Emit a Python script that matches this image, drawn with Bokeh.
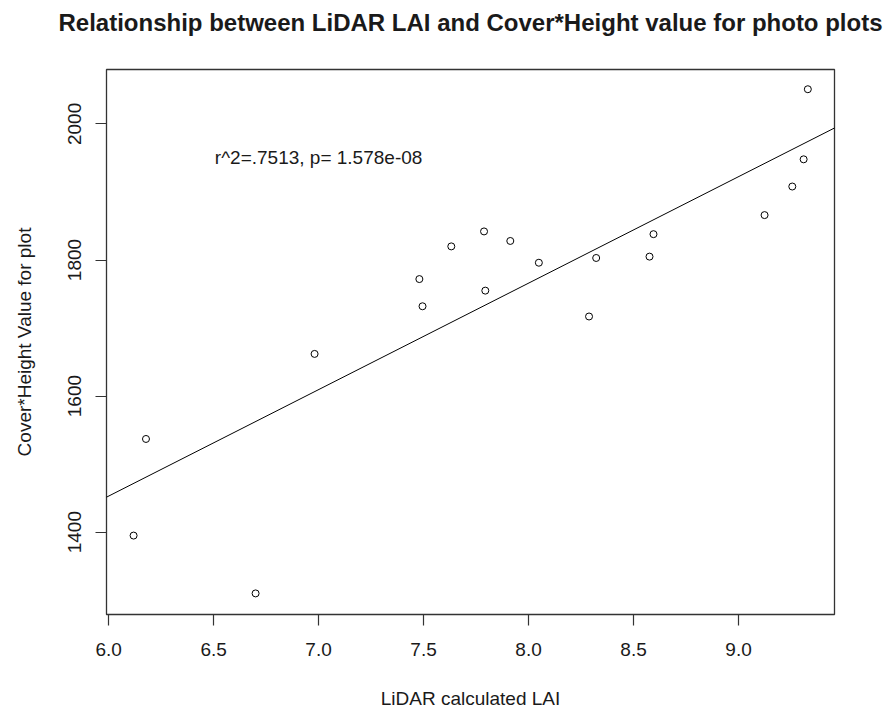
from bokeh.plotting import figure
from bokeh.models import FixedTicker, NumeralTickFormatter, Range1d, Slope, ColumnDataSource, Title
from bokeh.core.properties import value
from bokeh.embed import file_html
from bokeh.resources import INLINE

# Data
lidar_lai = [6.119, 6.178, 6.700, 6.981, 7.480, 7.495, 7.632, 7.788, 7.794, 7.913,
             8.049, 8.288, 8.322, 8.576, 8.595, 9.124, 9.256, 9.310, 9.330]
cover_height = [1395, 1537, 1310, 1662, 1772, 1732, 1820, 1842, 1755, 1828,
                1796, 1717, 1803, 1805, 1838, 1866, 1908, 1948, 2051]
fit_intercept = 514.0
fit_slope = 156.5
x_ticks = [6.0, 6.5, 7.0, 7.5, 8.0, 8.5, 9.0]
y_ticks = [1400, 1600, 1800, 2000]
title_text = "Relationship between LiDAR LAI and Cover*Height value for photo plots"
x_label = "LiDAR calculated LAI"
y_label = "Cover*Height Value for plot"
stat_text = "r^2=.7513, p= 1.578e-08"
stat_x = 7.0
stat_y = 1950

FONT = "Liberation Sans"
TXT = "#1a1a1a"

p = figure(width=884, height=711, output_backend="svg", toolbar_location=None, title=None,
           x_range=Range1d(5.99, 9.457), y_range=Range1d(1279, 2080),
           min_border_left=106, min_border_right=50, min_border_top=69, min_border_bottom=97)
p.background_fill_color = "white"
p.border_fill_color = "white"
p.grid.visible = False
p.outline_line_color = "#333333"
p.outline_line_width = 1.3

# invisible spacer between frame and title, then the title itself
p.add_layout(Title(text=" ", text_font_size="10px", standoff=21, text_color="white"), "above")
p.add_layout(Title(text=title_text, align="center", text_font=FONT, text_font_size="24px",
                   text_font_style="bold", text_color=TXT, standoff=0), "above")

for ax in (p.xaxis[0], p.yaxis[0]):
    ax.axis_line_color = None
    ax.major_tick_line_color = "#333333"
    ax.major_tick_line_width = 1.2
    ax.major_tick_out = 11
    ax.major_tick_in = 0
    ax.minor_tick_line_color = None
    ax.major_label_text_font = FONT
    ax.major_label_text_font_size = "19px"
    ax.major_label_text_color = TXT
    ax.axis_label_text_font = FONT
    ax.axis_label_text_font_size = "19px"
    ax.axis_label_text_font_style = "normal"
    ax.axis_label_text_color = TXT

p.xaxis.ticker = FixedTicker(ticks=x_ticks)
p.xaxis.formatter = NumeralTickFormatter(format="0.0")
p.xaxis.axis_label = x_label
p.xaxis.major_label_standoff = 17
p.xaxis.axis_label_standoff = 29

p.yaxis.ticker = FixedTicker(ticks=y_ticks)
p.yaxis.major_label_orientation = "vertical"
p.yaxis.axis_label = y_label
p.yaxis.major_label_standoff = 14
p.yaxis.axis_label_standoff = 31

src = ColumnDataSource(dict(x=lidar_lai, y=cover_height))
p.scatter("x", "y", source=src, marker="circle", size=7, fill_color=None,
          line_color="black", line_width=1)

p.add_layout(Slope(gradient=fit_slope, y_intercept=fit_intercept, line_color="black", line_width=1))

p.text(x=[stat_x], y=[stat_y], text=[stat_text], text_align="center", text_baseline="middle",
       text_font=value(FONT), text_font_size="19px", text_color=TXT)

open("out.html", "w").write(file_html(p, INLINE))
